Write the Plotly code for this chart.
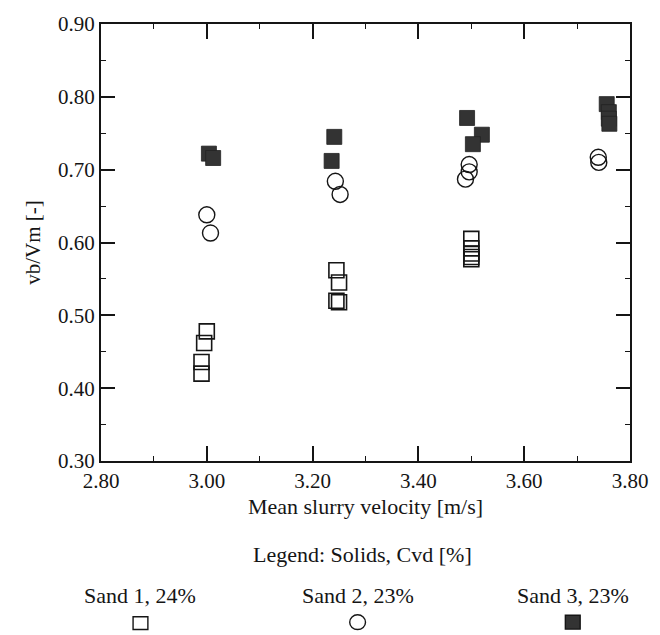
import plotly.graph_objects as go

# Sand 1, 24% (open squares)
s1_x = [3.00, 2.995, 2.99, 2.99, 3.245, 3.25, 3.245, 3.25, 3.50, 3.50, 3.50, 3.50, 3.50]
s1_y = [0.478, 0.462, 0.436, 0.420, 0.562, 0.545, 0.520, 0.518, 0.605, 0.592, 0.585, 0.580, 0.577]

# Sand 2, 23% (open circles)
s2_x = [3.00, 3.007, 3.243, 3.252, 3.496, 3.496, 3.489, 3.740, 3.741]
s2_y = [0.638, 0.613, 0.684, 0.666, 0.707, 0.697, 0.687, 0.717, 0.710]

# Sand 3, 23% (filled squares)
s3_x = [3.004, 3.012, 3.241, 3.236, 3.492, 3.520, 3.503, 3.756, 3.760, 3.760, 3.761]
s3_y = [0.722, 0.716, 0.745, 0.712, 0.771, 0.748, 0.735, 0.790, 0.779, 0.770, 0.763]

legend_labels = ["Sand 1, 24%", "Sand 2, 23%", "Sand 3, 23%"]
x_ticks = [2.8, 3.0, 3.2, 3.4, 3.6, 3.8]
y_ticks = [0.3, 0.4, 0.5, 0.6, 0.7, 0.8, 0.9]

FONT = "Liberation Serif, Times New Roman, serif"
INK = "#151515"

fig = go.Figure()
fig.add_trace(go.Scatter(x=s1_x, y=s1_y, mode="markers", name=legend_labels[0],
                         marker=dict(symbol="square-open", size=15, color=INK,
                                     line=dict(width=1.6, color=INK))))
fig.add_trace(go.Scatter(x=s2_x, y=s2_y, mode="markers", name=legend_labels[1],
                         marker=dict(symbol="circle-open", size=16, color=INK,
                                     line=dict(width=1.4, color=INK))))
fig.add_trace(go.Scatter(x=s3_x, y=s3_y, mode="markers", name=legend_labels[2],
                         marker=dict(symbol="square", size=15, color="#333",
                                     line=dict(width=0.8, color="#222"))))

axis_common = dict(showline=True, linecolor=INK, linewidth=2, mirror="allticks",
                   showgrid=False, zeroline=False, ticks="inside", tickcolor=INK,
                   tickfont=dict(family=FONT, size=21, color=INK))

fig.update_xaxes(range=[2.8, 3.8], tickvals=x_ticks,
                 ticktext=[f"{v:.2f}" for v in x_ticks],
                 ticklen=15, tickwidth=1.5,
                 minor=dict(dtick=0.1, ticklen=5, ticks="inside", tickcolor=INK, tickwidth=1.2),
                 title=dict(text="Mean slurry velocity [m/s]", font=dict(family=FONT, size=22, color=INK), standoff=6),
                 **axis_common)
fig.update_yaxes(range=[0.3, 0.9], tickvals=y_ticks,
                 ticktext=[f"{v:.2f}" for v in y_ticks],
                 ticklen=14, tickwidth=1.5,
                 minor=dict(dtick=0.05, ticklen=5, ticks="inside", tickcolor=INK, tickwidth=1.2),
                 title=dict(text="vb/Vm [-]", font=dict(family=FONT, size=21, color=INK), standoff=12),
                 **axis_common)

W, H = 660, 635
L, R, T, B = 101, 23, 19, 174
pw, ph = W - L - R, H - T - B

def px_to_paper(px, py):
    return (px - L) / pw, (H - B - py) / ph

annotations = []
def add_text(text, px, py):
    x, y = px_to_paper(px, py)
    annotations.append(dict(text=text, x=x, y=y, xref="paper", yref="paper",
                            xanchor="center", yanchor="middle", showarrow=False,
                            font=dict(family=FONT, size=22, color=INK)))

add_text("Legend: Solids, Cvd [%]", 366, 556)
leg_x = [141, 361, 579]
for lx, lab in zip(leg_x, legend_labels):
    add_text(lab, lx, 597)

shapes = []
def box(cx, cy, w, h, fill):
    x0, y0 = px_to_paper(cx - w / 2, cy + h / 2)
    x1, y1 = px_to_paper(cx + w / 2, cy - h / 2)
    return dict(type="rect", xref="paper", yref="paper", x0=x0, y0=y0, x1=x1, y1=y1,
                line=dict(color=INK, width=1.4), fillcolor=fill)

shapes.append(box(leg_x[0], 625, 15, 13, "white"))
c = box(leg_x[1], 624, 16, 15, "white"); c["type"] = "circle"; shapes.append(c)
shapes.append(box(leg_x[2], 624, 15, 14, "#333"))

fig.update_layout(width=W, height=H, margin=dict(l=L, r=R, t=T, b=B),
                  paper_bgcolor="white", plot_bgcolor="white", showlegend=False,
                  annotations=annotations, shapes=shapes,
                  font=dict(family=FONT, color=INK))

fig.write_html("out.html")
